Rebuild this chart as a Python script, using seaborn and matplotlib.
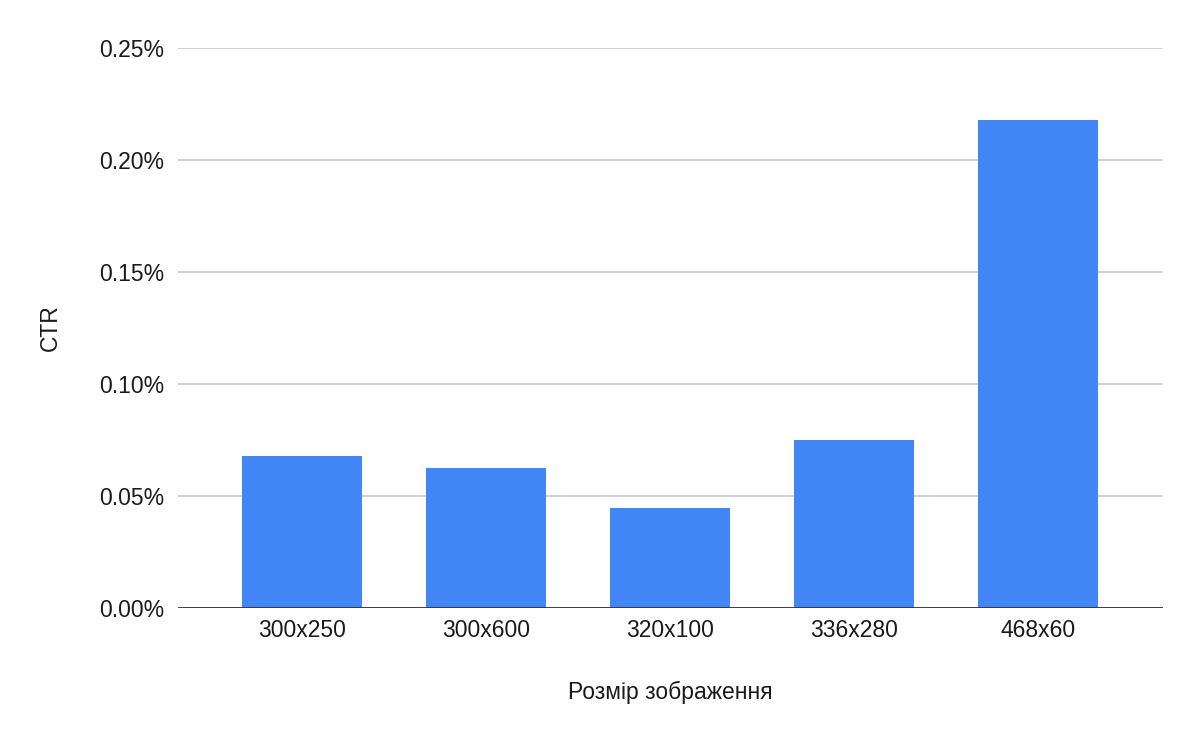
import pandas as pd
import seaborn as sns
import matplotlib.pyplot as plt
from matplotlib.ticker import PercentFormatter, MultipleLocator

sizes = ["300x250", "300x600", "320x100", "336x280", "468x60"]
ctr = [0.068, 0.0625, 0.0446, 0.075, 0.218]  # percent

df = pd.DataFrame({"size": sizes, "ctr": ctr})

sns.set_theme(style="white")
plt.rcParams["font.family"] = ["Liberation Sans", "DejaVu Sans"]

fig = plt.figure(figsize=(12, 7.42), dpi=100)
ax = fig.add_axes([0.1483, 0.1806, 0.8207, 0.7547])

sns.barplot(data=df, x="size", y="ctr", color="#4285F4", saturation=1,
            width=0.652, ax=ax, zorder=3, linewidth=0)

ax.set_xlim(-0.674, 4.68)
ax.set_ylim(0, 0.25)
ax.yaxis.set_major_locator(MultipleLocator(0.05))
ax.yaxis.set_major_formatter(PercentFormatter(decimals=2))
ax.grid(axis="y", color="#c8c8c8", linewidth=1.2, zorder=0)
ax.axhline(0, color="#333333", linewidth=2, zorder=4)

for s in ax.spines.values():
    s.set_visible(False)
ax.tick_params(axis="both", length=0, labelsize=16.5, colors="#1a1a1a")
ax.tick_params(axis="y", pad=10)
ax.tick_params(axis="x", pad=8)

ax.set_xlabel("Розмір зображення", fontsize=16.5, color="#1a1a1a", labelpad=28)
ax.set_ylabel("CTR", fontsize=16.5, color="#1a1a1a", labelpad=27)

fig.savefig("out.png", dpi=100)
plt.close()
